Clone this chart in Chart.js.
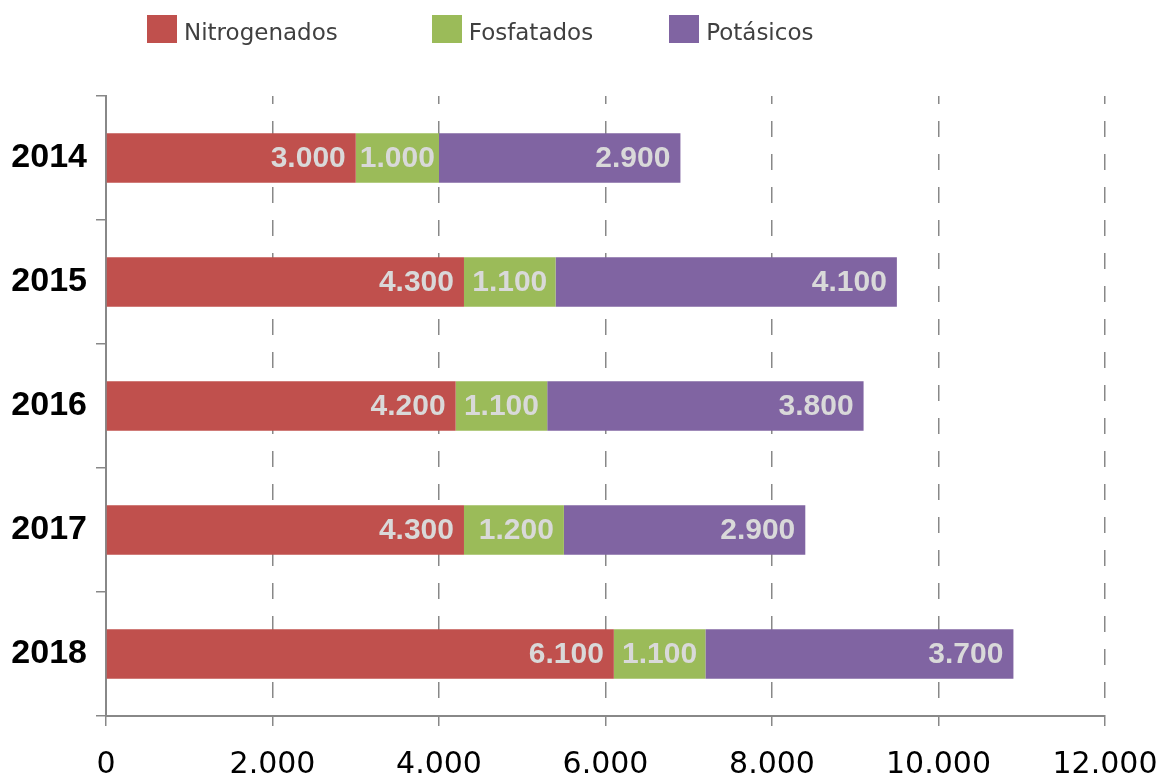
<!DOCTYPE html>
<html>
<head>
<meta charset="utf-8">
<script src="https://cdn.jsdelivr.net/npm/chart.js@4"></script>
<style>
  html, body { margin: 0; padding: 0; background: #fff; }
  #wrap { position: relative; width: 1171px; height: 780px; }
  #legend { position: absolute; top: 15px; left: 147px; display: flex; }
  .item { display: flex; align-items: flex-end; font-family: "DejaVu Sans", sans-serif; font-size: 23px; color: #404040; }
  .item:nth-child(1) { margin-right: 94px; }
  .item:nth-child(2) { margin-right: 76px; }
  .box { width: 30px; height: 28px; margin-right: 7px; }
  .item span { line-height: 23px; margin-bottom: -1px; }
</style>
</head>
<body>
<div id="wrap">
  <canvas id="chart" width="1171" height="780"></canvas>
  <div id="legend"></div>
</div>
<script>
const years = ['2014', '2015', '2016', '2017', '2018'];
const nitrogenados = [3000, 4300, 4200, 4300, 6100];
const fosfatados = [1000, 1100, 1100, 1200, 1100];
const potasicos = [2900, 4100, 3800, 2900, 3700];
const xTicks = [0, 2000, 4000, 6000, 8000, 10000, 12000];

// thousands with a dot, like 3.000
const fmt = v => String(v).replace(/\B(?=(\d{3})+(?!\d))/g, '.');

const barLabels = {
  id: 'barLabels',
  afterDatasetsDraw(chart) {
    const ctx = chart.ctx;
    ctx.save();
    ctx.font = 'bold 30px "Liberation Sans", Arial, sans-serif';
    ctx.fillStyle = '#d9d9d9';
    ctx.textAlign = 'right';
    ctx.textBaseline = 'middle';
    chart.data.datasets.forEach((ds, i) => {
      chart.getDatasetMeta(i).data.forEach((bar, j) => {
        const text = fmt(ds.data[j]);
        const w = ctx.measureText(text).width;
        const len = bar.x - bar.base;
        const inset = Math.min(10, (len - w) / 2);
        ctx.fillText(text, bar.x - inset, bar.y + 1);
      });
    });
    ctx.restore();
  }
};

const chart = new Chart(document.getElementById('chart'), {
  type: 'bar',
  data: {
    labels: years,
    datasets: [
      { label: 'Nitrogenados', data: nitrogenados, backgroundColor: '#c0504d' },
      { label: 'Fosfatados', data: fosfatados, backgroundColor: '#9bbb59' },
      { label: 'Potásicos', data: potasicos, backgroundColor: '#8064a2' }
    ]
  },
  options: {
    indexAxis: 'y',
    responsive: false,
    animation: false,
    barPercentage: 0.4,
    categoryPercentage: 1.0,
    layout: { padding: { top: 96, right: 66, bottom: 0, left: 11 } },
    plugins: {
      legend: { display: false },
      tooltip: { enabled: false }
    },
    scales: {
      x: {
        stacked: true,
        min: 0,
        max: 12000,
        afterBuildTicks: axis => { axis.ticks = xTicks.map(v => ({ value: v })); },
        afterFit: axis => { axis.height = 64; axis.paddingRight = 0; axis.paddingLeft = 0; },
        ticks: {
          callback: v => fmt(v),
          color: '#000',
          padding: 24,
          maxRotation: 0,
          font: { family: '"DejaVu Sans", sans-serif', size: 30, lineHeight: 1.0 }
        },
        grid: { color: '#888', lineWidth: 1.5, tickLength: 10, tickColor: '#888', tickWidth: 1.5 },
        border: { display: true, color: '#888', width: 2, dash: [16, 17], dashOffset: 8 }
      },
      y: {
        stacked: true,
        afterFit: axis => { axis.width = 95; },
        ticks: {
          color: '#000',
          padding: 9,
          font: { family: '"Liberation Sans", Arial, sans-serif', size: 34, weight: 'bold' }
        },
        grid: { drawOnChartArea: false, offset: true, color: '#888', lineWidth: 1.5, tickLength: 10 },
        border: { display: true, color: '#888', width: 2 }
      }
    }
  },
  plugins: [barLabels]
});

// legend built from the datasets
const legend = document.getElementById('legend');
chart.data.datasets.forEach(ds => {
  const item = document.createElement('div');
  item.className = 'item';
  const box = document.createElement('div');
  box.className = 'box';
  box.style.background = ds.backgroundColor;
  const txt = document.createElement('span');
  txt.textContent = ds.label;
  item.appendChild(box);
  item.appendChild(txt);
  legend.appendChild(item);
});
</script>
</body>
</html>
